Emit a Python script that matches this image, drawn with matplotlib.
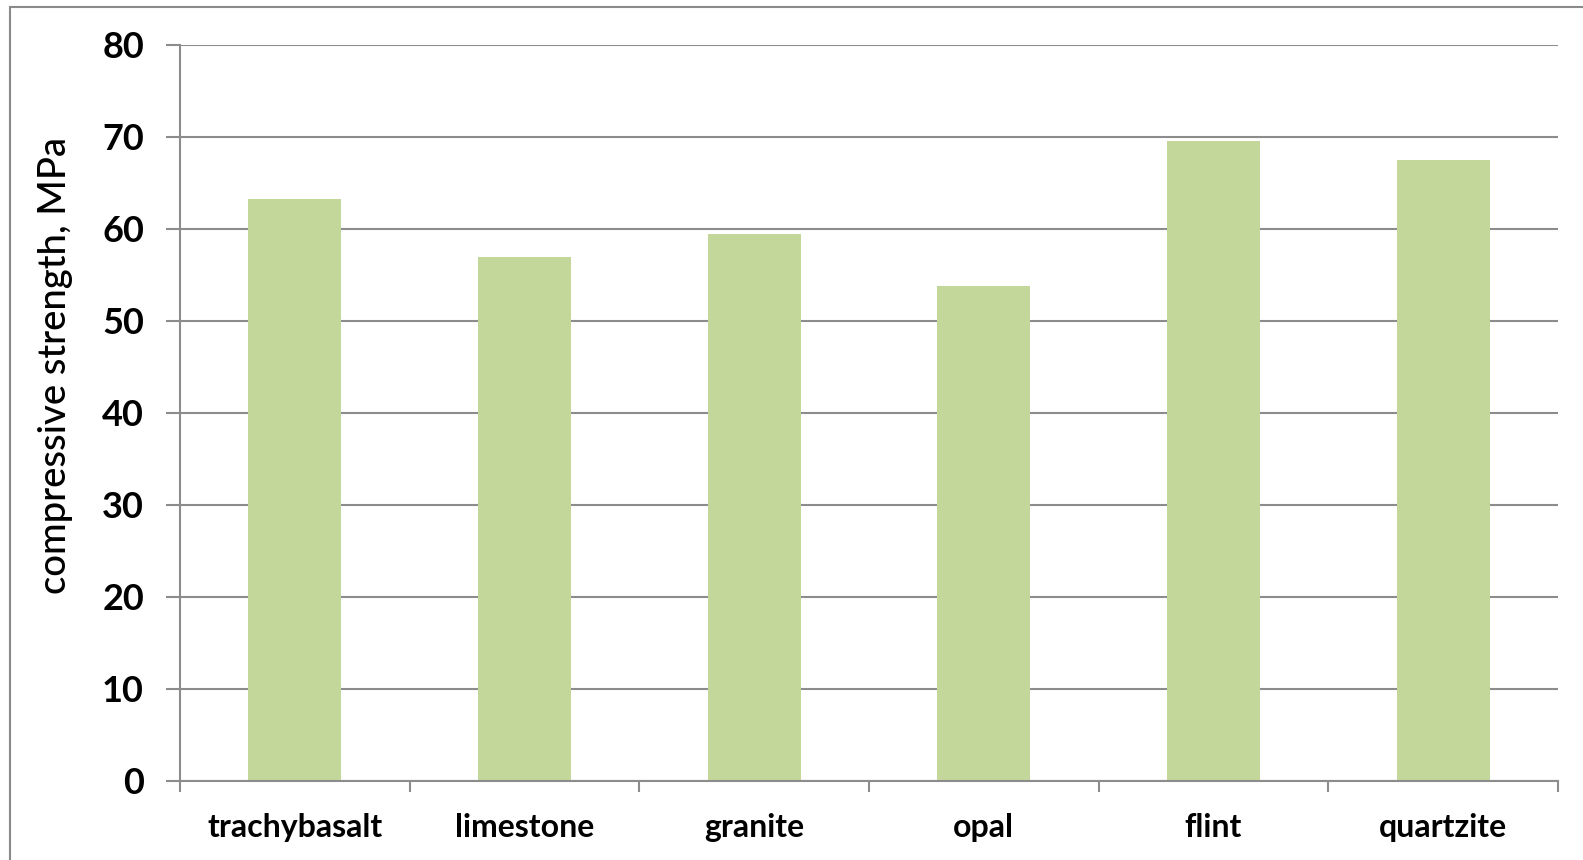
import matplotlib
matplotlib.use('Agg')
import matplotlib.pyplot as plt
from matplotlib.patches import Rectangle
import numpy as np

# Прочность на сжатие по породам
rocks = ['trachybasalt', 'limestone', 'granite', 'opal', 'flint', 'quartzite']
strength = [63.3, 56.9, 59.5, 53.8, 69.6, 67.5]
y_ticks = [0, 10, 20, 30, 40, 50, 60, 70, 80]

plt.rcParams['font.family'] = ['Lato', 'DejaVu Sans']
line_gray = '#8c8c8c'

fig = plt.figure(figsize=(15.83, 8.6), dpi=100)
ax = fig.add_axes([180 / 1583, 1 - 780.7 / 860, 1378 / 1583, 735.7 / 860])

# Рамка вокруг диаграммы
fig.patches.append(Rectangle((10 / 1583, -0.1), 1.2, 1.1 - 7 / 860,
                             transform=fig.transFigure, fill=False,
                             edgecolor='#8a8a8a', linewidth=1.5))

x = np.arange(len(rocks))
ax.bar(x, strength, width=0.405, color='#c4d79b', zorder=2)

ax.set_xlim(-0.5, len(rocks) - 0.5)
ax.set_ylim(0, 80)
ax.set_yticks(y_ticks)
ax.set_yticklabels([str(v) for v in y_ticks], fontsize=26, fontweight='bold')
ax.yaxis.grid(True, color=line_gray, linewidth=1.5, zorder=0)

# Подписи категорий по центру, риски на границах
ax.set_xticks(x)
ax.set_xticklabels(rocks, fontsize=23, fontweight='bold')
ax.set_xticks(np.arange(len(rocks) + 1) - 0.5, minor=True)
ax.tick_params(axis='x', which='major', length=0, pad=23)
ax.tick_params(axis='x', which='minor', length=8, width=1.5, color=line_gray, direction='out')
ax.tick_params(axis='y', length=10, width=1.5, color=line_gray, pad=16)

for side in ['top', 'right']:
    ax.spines[side].set_visible(False)
for side in ['left', 'bottom']:
    ax.spines[side].set_color(line_gray)
    ax.spines[side].set_linewidth(1.5)

ax.set_ylabel('compressive strength, MPa', fontsize=27.5, fontweight='medium')
ax.yaxis.set_label_coords(-0.0776, 0.564)

plt.savefig('out.png', dpi=100)
